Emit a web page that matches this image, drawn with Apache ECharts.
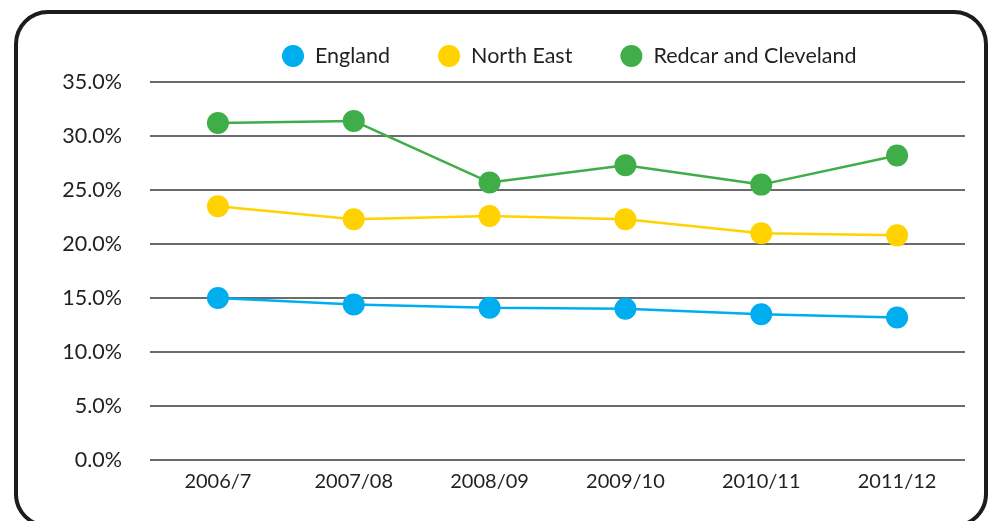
<!DOCTYPE html>
<html>
<head>
<meta charset="utf-8">
<script src="https://cdn.jsdelivr.net/npm/echarts@6/dist/echarts.min.js"></script>
<style>
html, body { margin: 0; padding: 0; background: #fff; overflow: hidden; }
#frame {
  position: absolute; left: 14px; top: 10px; width: 966px; height: 510px;
  border: 4px solid #1c1c1c; border-radius: 34px;
}
#chart { position: absolute; left: 0; top: 0; width: 989px; height: 521px; }
</style>
</head>
<body>
<div id="frame"></div>
<div id="chart"></div>
<script>
// data (percent)
var years = ['2006/7', '2007/08', '2008/09', '2009/10', '2010/11', '2011/12']
var england = [15.0, 14.4, 14.1, 14.0, 13.5, 13.2]
var northEast = [23.5, 22.3, 22.6, 22.3, 21.0, 20.8]
var redcar = [31.2, 31.4, 25.7, 27.3, 25.5, 28.2]

var fontName = 'Lato'

function lineSeries (name, color, data) {
  return {
    name: name,
    type: 'line',
    data: data,
    symbol: 'circle',
    symbolSize: 22,
    itemStyle: { color: color },
    lineStyle: { color: color, width: 2.5 },
    emphasis: { disabled: true }
  }
}

var option = {
  animation: false,
  textStyle: { fontFamily: fontName },
  legend: {
    left: 277,
    top: 40,
    icon: 'circle',
    itemWidth: 22,
    itemHeight: 22,
    itemGap: 48,
    textStyle: { fontFamily: fontName, fontSize: 21.5, color: '#231f20', padding: [0, 0, 0, 6] },
    data: ['England', 'North East', 'Redcar and Cleveland']
  },
  grid: { left: 150, right: 24, top: 82, bottom: 61 },
  xAxis: {
    type: 'category',
    data: years,
    boundaryGap: true,
    axisLine: { show: false },
    axisTick: { show: false },
    axisLabel: { color: '#231f20', fontSize: 20, margin: 12, fontFamily: fontName }
  },
  yAxis: {
    type: 'value',
    min: 0,
    max: 35,
    interval: 5,
    axisLine: { show: false },
    axisTick: { show: false },
    axisLabel: {
      color: '#231f20', fontSize: 21.5, margin: 28, fontFamily: fontName,
      formatter: function (v) { return v.toFixed(1) + '%' }
    },
    splitLine: { lineStyle: { color: '#3a3a3a', width: 1.5 } }
  },
  series: [
    lineSeries('England', '#00aeef', england),
    lineSeries('North East', '#ffd200', northEast),
    lineSeries('Redcar and Cleveland', '#3fae49', redcar)
  ]
}

var chart = echarts.init(document.getElementById('chart'))
chart.setOption(option)
</script>
</body>
</html>
